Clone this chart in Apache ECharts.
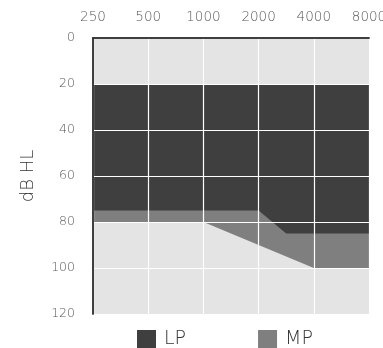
<!DOCTYPE html>
<html><head><meta charset="utf-8">
<script src="https://cdn.jsdelivr.net/npm/echarts@6/dist/echarts.min.js"></script>
<style>html,body{margin:0;padding:0;background:#fff}#c{width:383px;height:348px}</style>
</head><body><div id="c"></div>
<script>
// Frequency tick labels (octave positions 0..5)
var freqLabels = ['250', '500', '1000', '2000', '4000', '8000'];
// LP region: top boundary (dB HL) and bottom boundary, at octave positions
var lpTop = [[0, 20], [1, 20], [2, 20], [3, 20], [4, 20], [5, 20]];
var lpBottom = [[0, 75], [1, 75], [2, 75], [3, 75], [3.5, 85], [4, 85], [5, 85]];
// MP region: bottom boundary (top is LP bottom)
var mpBottom = [[0, 80], [1, 80], [2, 80], [3, 90], [4, 100], [5, 100]];

var FONT = 'DejaVu Sans';
var chart = echarts.init(document.getElementById('c'), null, {renderer: 'canvas'});
chart.setOption({
  backgroundColor: '#fff',
  animation: false,
  textStyle: {fontFamily: FONT},
  grid: {left: 93, right: 14, top: 38, bottom: 34, show: true, backgroundColor: '#e4e4e4', borderWidth: 0,
         containLabel: false, outerBoundsMode: 'none'},
  legend: {
    data: ['LP', 'MP'], left: 132, top: 325, icon: 'rect', itemWidth: 19, itemHeight: 19, itemGap: 72,
    textStyle: {fontFamily: FONT, fontSize: 19, fontWeight: 200, color: '#333', padding: [0, 0, 0, 3]}
  },
  xAxis: [{
    type: 'value', position: 'top', min: 0, max: 5, interval: 1, z: 10,
    axisLine: {show: true, lineStyle: {color: '#333', width: 1.5}},
    axisTick: {show: false},
    axisLabel: {margin: 14, fontSize: 13.5, fontWeight: 200, color: '#5a5a5a', hideOverlap: false,
      formatter: function (v) { return freqLabels[Math.round(v)] || ''; }},
    splitLine: {show: true, lineStyle: {color: '#fff', width: 1.2}}
  }, {
    type: 'value', position: 'bottom', min: 0, max: 5, interval: 1, z: 10,
    axisLine: {show: true, lineStyle: {color: '#333', width: 1.5}},
    axisTick: {show: false}, axisLabel: {show: false}, splitLine: {show: false}
  }],
  yAxis: [{
    type: 'value', inverse: true, min: 0, max: 120, interval: 20, z: 10,
    name: 'dB HL', nameLocation: 'middle', nameGap: 56, nameRotate: 90,
    nameTextStyle: {fontFamily: FONT, fontSize: 18, fontWeight: 200, color: '#333'},
    axisLine: {show: true, lineStyle: {color: '#333', width: 1.5}},
    axisTick: {show: false},
    axisLabel: {margin: 18, fontSize: 12.5, fontWeight: 200, color: '#5a5a5a'},
    splitLine: {show: true, lineStyle: {color: '#fff', width: 1.2}}
  }, {
    type: 'value', inverse: true, min: 0, max: 120, interval: 20, position: 'right', z: 10,
    axisLine: {show: true, lineStyle: {color: '#333', width: 1.5}},
    axisTick: {show: false}, axisLabel: {show: false}, splitLine: {show: false}
  }],
  series: [
    {
      name: 'MP', type: 'line', data: mpBottom, symbol: 'none', silent: true,
      lineStyle: {width: 0}, itemStyle: {color: '#7f7f80'},
      areaStyle: {color: '#7f7f80', opacity: 1, origin: 'start'}
    },
    {
      name: 'LP', type: 'line', data: lpBottom, symbol: 'none', silent: true,
      lineStyle: {width: 0}, itemStyle: {color: '#3f3f3f'},
      areaStyle: {color: '#3f3f3f', opacity: 1, origin: 'start'}
    },
    {
      name: 'LP top', type: 'line', data: lpTop, symbol: 'none', silent: true,
      lineStyle: {width: 0}, itemStyle: {color: '#e4e4e4'},
      areaStyle: {color: '#e4e4e4', opacity: 1, origin: 'start'}
    }
  ]
});
</script></body></html>
